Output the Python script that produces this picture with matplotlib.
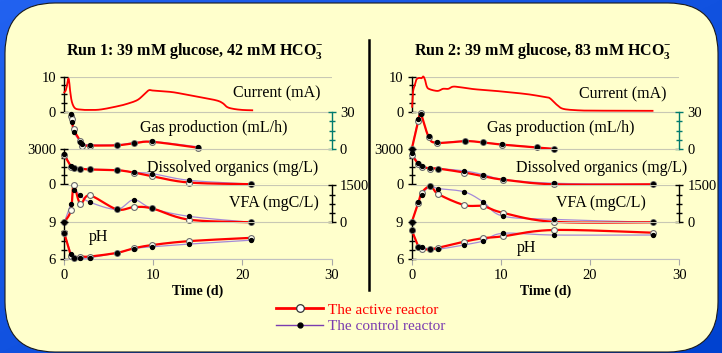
import numpy as np
import matplotlib
matplotlib.use("Agg")
import matplotlib.pyplot as plt
from matplotlib.patches import FancyBboxPatch
from matplotlib.lines import Line2D
from matplotlib.colors import LinearSegmentedColormap

plt.rcParams['font.family'] = ['Liberation Serif', 'DejaVu Serif']
plt.rcParams['mathtext.fontset'] = 'custom'
plt.rcParams['mathtext.rm'] = 'Liberation Serif'
plt.rcParams['mathtext.bf'] = 'Liberation Serif:bold'

# ---------------- data ----------------
xticks_days = [0, 10, 20, 30]

# Run 1
r1_cur_t = [0, 0.15, 0.3, 0.45, 0.55, 0.65, 0.85, 1.2, 1.8, 2.5, 4, 5.9, 7, 8.2, 9.0, 9.5,
            10, 12, 13.4, 15.3, 17.1, 17.8, 18.3, 19, 20, 21.1]
r1_cur = [5.5, 6.0, 7.5, 9.4, 8.5, 6.0, 2.8, 1.0, 0.6, 0.5, 0.6, 1.5, 2.2, 3.3, 5.0, 6.1,
          6.0, 5.6, 5.0, 4.1, 3.2, 2.4, 1.3, 0.8, 0.5, 0.4]
r1_gas_t = [0.75, 0.85, 1.05, 1.8, 2.0, 2.85, 5.9, 7.8, 9.85, 15]
r1_gas_act = [27, 24, 16, 6.5, 3.0, 3.0, 3.2, 4.8, 6.0, 1.3]
r1_gas_ctl = [28, 22, 14, 6.0, 4.5, 3.6, 3.6, 5.3, 6.3, 2.0]
r1_t = [0, 0.75, 1.05, 1.8, 2.85, 5.9, 7.8, 9.85, 14, 21]
r1_dis_act = [2480, 1500, 1350, 1330, 1260, 1200, 1000, 690, 150, 10]
r1_dis_ctl = [2570, 1560, 1400, 1340, 1280, 1230, 1020, 910, 340, 20]
r1_vfa_act = [0, 490, 1500, 757, 1095, 527, 622, 567, 108, 0]
r1_vfa_ctl = [0, 757, 1320, 1095, 824, 527, 919, 567, 243, 0]
r1_ph_act = [8.1, 6.25, 6.1, 6.2, 6.2, 6.5, 6.87, 7.14, 7.46, 7.73]
r1_ph_ctl = [8.1, 6.4, 6.05, 6.05, 6.1, 6.5, 6.85, 7.0, 7.22, 7.54]

# Run 2
r2_cur_t = [0.05, 0.15, 0.35, 0.55, 0.85, 1.1, 1.3, 1.5, 1.7, 2.0, 2.9, 3.5, 4.1, 4.6, 5.3,
            7, 9, 12.9, 15, 15.5, 16.3, 17, 18.6, 20.4, 27]
r2_cur = [1.4, 5.7, 7.6, 9.2, 9.6, 9.5, 10.0, 9.0, 7.1, 6.4, 5.9, 6.5, 6.5, 7.1, 7.0,
          6.4, 6.0, 5.0, 4.1, 3.8, 1.9, 0.8, 0.4, 0.3, 0.25]
r2_gas_t = [0, 0.75, 1.0, 1.9, 2.8, 6.0, 8.0, 10.1, 14.1, 16.0]
r2_gas_act = [0, 23, 29, 10, 5.2, 6.6, 5.5, 3.8, 1.5, 0.2]
r2_gas_ctl = [0.5, 24.5, 28, 10.3, 5.5, 6.8, 5.5, 4.0, 1.5, 0.5]
r2_t = [0, 0.75, 1.1, 2.1, 3.0, 5.9, 8.0, 10.2, 15.9, 27]
r2_dis_act = [2500, 1700, 1500, 1340, 1330, 1000, 690, 400, 0, 0]
r2_dis_ctl = [2650, 1770, 1570, 1360, 1340, 1140, 830, 430, 90, 10]
r2_vfa_act = [0, 800, 1200, 1470, 1145, 700, 660, 390, 20, 0]
r2_vfa_ctl = [0, 835, 1130, 1470, 1375, 1240, 835, 255, 120, 0]
r2_ph_act = [8.37, 7.0, 6.8, 6.8, 6.92, 7.42, 7.7, 7.85, 8.37, 8.15]
r2_ph_ctl = [8.37, 7.0, 6.95, 6.8, 6.8, 7.15, 7.47, 8.1, 7.96, 7.96]

titles = ["Run 1: 39 mM glucose, 42 mM HCO$_{\\mathbf{3}}^{\\mathbf{-}}$",
          "Run 2: 39 mM glucose, 83 mM HCO$_{\\mathbf{3}}^{\\mathbf{-}}$"]
legend_labels = ["The active reactor", "The control reactor"]

# ---------------- layout ----------------
W, H = 722, 353
fig = plt.figure(figsize=(7.22, 3.53), dpi=100)

bg = fig.add_axes([0, 0, 1, 1], zorder=-10)
grad = np.linspace(0, 1, 256)
G = (grad[None, :] * 0.5 + grad[:, None] * 0.5)
cm = LinearSegmentedColormap.from_list('b', ['#2262f0', '#0042d0'])
bg.imshow(G, cmap=cm, extent=[0, W, H, 0], aspect='auto')
bg.set_xlim(0, W); bg.set_ylim(H, 0)
bg.add_patch(FancyBboxPatch((5, 3), 713, 349, boxstyle="round,pad=0,rounding_size=50",
                            fc='#FFFFCC', ec='#1a1a1a', lw=0.8))
bg.plot([369, 369], [40, 290], color='black', lw=1.8)
bg.axis('off')

bands = {'cur': (76.5, 111.7), 'gas': (112.0, 149.3), 'dis': (149.0, 184.3),
         'vfa': (185.5, 222.3), 'ph': (222.3, 259.0)}
runs_x = [(64.3, 331.5), (411.7, 679.3)]
GRID = '#c8c8b4'
TEAL = '#007a6e'
RED = '#ff0000'
PURP = '#a48ad8'


def make_ax(xpx, key, ylim, side, color='black'):
    top, bot = bands[key]
    x0, x1 = xpx
    ax = fig.add_axes([x0 / W, 1 - bot / H, (x1 - x0) / W, (bot - top) / H])
    ax.set_xlim(0, 30)
    ax.set_ylim(*ylim)
    ax.patch.set_visible(False)
    for s in ax.spines.values():
        s.set_visible(False)
    lo, hi = ylim
    ax.set_yticks([lo, hi])
    ax.set_yticklabels([f"{lo:g}", f"{hi:g}"])
    ax.set_yticks([lo + (hi - lo) * k / 4 for k in (1, 2, 3)], minor=True)
    if side == 'right':
        ax.yaxis.tick_right()
    ax.spines[side].set_visible(True)
    ax.spines[side].set_color(color)
    ax.spines[side].set_linewidth(1.0)
    ax.tick_params(axis='y', which='both', direction='inout', length=6, width=1,
                   color=color, labelsize=10.5, pad=3)
    ax.tick_params(axis='y', which='minor', length=5)
    ax.yaxis.grid(True, which='major', color=GRID, lw=0.8)
    ax.set_axisbelow(True)
    ax.set_xticks([])
    return ax


def smooth(ax, x, y, n=24):
    bb = ax.get_position()
    sx = bb.width * W / 30.0
    y0, y1 = ax.get_ylim()
    sy = bb.height * H / (y1 - y0)
    P = np.column_stack([np.asarray(x, float) * sx, np.asarray(y, float) * sy])
    E = np.vstack([P[0], P, P[-1]])
    segs = []
    t = np.linspace(0, 1, n, endpoint=False)[:, None]
    for i in range(len(P) - 1):
        p0, p1, p2, p3 = E[i], E[i + 1], E[i + 2], E[i + 3]
        c1 = p1 + (p2 - p0) / 6
        c2 = p2 - (p3 - p1) / 6
        segs.append((1 - t) ** 3 * p1 + 3 * (1 - t) ** 2 * t * c1 + 3 * (1 - t) * t ** 2 * c2 + t ** 3 * p2)
    segs.append(P[-1:])
    S = np.vstack(segs)
    return S[:, 0] / sx, S[:, 1] / sy


def pair(ax, t, act, ctl, tc=None):
    tc = t if tc is None else tc
    xs, ys = smooth(ax, tc, ctl)
    ax.plot(xs, ys, color=PURP, lw=0.9, zorder=2, clip_on=False)
    xs, ys = smooth(ax, t, act)
    ax.plot(xs, ys, color=RED, lw=1.6, zorder=3, clip_on=False)
    ax.plot(t, act, 'o', ms=4.2, mfc='#fffff0', mec='#6a6a6a', mew=0.8, zorder=4, clip_on=False)
    ax.plot(tc, ctl, 'o', ms=2.8, mfc='black', mec='black', zorder=5, clip_on=False)


runs = [
    dict(cur_t=r1_cur_t, cur=r1_cur, gas_t=r1_gas_t, ga=r1_gas_act, gc=r1_gas_ctl, t=r1_t,
         da=r1_dis_act, dc=r1_dis_ctl, va=r1_vfa_act, vc=r1_vfa_ctl, pa=r1_ph_act, pc=r1_ph_ctl,
         lab={'cur': (0.957, 0.53, 'right'), 'gas': (0.558, 0.57, 'center'),
              'dis': (0.631, 0.45, 'center'), 'vfa': (0.783, 0.53, 'center'),
              'ph': (0.129, 0.59, 'center')}),
    dict(cur_t=r2_cur_t, cur=r2_cur, gas_t=r2_gas_t, ga=r2_gas_act, gc=r2_gas_ctl, t=r2_t,
         da=r2_dis_act, dc=r2_dis_ctl, va=r2_vfa_act, vc=r2_vfa_ctl, pa=r2_ph_act, pc=r2_ph_ctl,
         lab={'cur': (0.953, 0.49, 'right'), 'gas': (0.556, 0.58, 'center'),
              'dis': (0.711, 0.45, 'center'), 'vfa': (0.707, 0.53, 'center'),
              'ph': (0.428, 0.29, 'center')}),
]
names = {'cur': 'Current (mA)', 'gas': 'Gas production (mL/h)',
         'dis': 'Dissolved organics (mg/L)', 'vfa': 'VFA (mgC/L)', 'ph': 'pH'}

for ri, (xpx, R) in enumerate(zip(runs_x, runs)):
    ax_cur = make_ax(xpx, 'cur', (0, 10), 'left')
    ax_gas = make_ax(xpx, 'gas', (0, 30), 'right', TEAL)
    ax_gas.tick_params(axis='y', labelcolor='black')
    ax_dis = make_ax(xpx, 'dis', (0, 3000), 'left')
    ax_vfa = make_ax(xpx, 'vfa', (0, 1500), 'right')
    ax_ph = make_ax(xpx, 'ph', (6, 9), 'left')

    xs, ys = smooth(ax_cur, R['cur_t'], R['cur'], n=10)
    ax_cur.plot(xs, ys, color=RED, lw=1.3, zorder=3, clip_on=False)
    pair(ax_gas, R['gas_t'], R['ga'], R['gc'])
    pair(ax_dis, R['t'], R['da'], R['dc'])
    pair(ax_vfa, R['t'], R['va'], R['vc'])
    pair(ax_ph, R['t'], R['pa'], R['pc'])

    ax_ph.spines['bottom'].set_visible(True)
    ax_ph.spines['bottom'].set_color('#c0c0c0')
    ax_ph.set_xticks(xticks_days)
    ax_ph.set_xticklabels([str(v) for v in xticks_days])
    ax_ph.tick_params(axis='x', direction='out', length=4, color='#a8a8a8', labelsize=10.5, pad=3)
    ax_ph.set_xlabel('Time (d)', fontsize=10, fontweight='bold', labelpad=2)

    for key, ax in zip(['cur', 'gas', 'dis', 'vfa', 'ph'], [ax_cur, ax_gas, ax_dis, ax_vfa, ax_ph]):
        fx, fy, ha = R['lab'][key]
        ax.text(fx, fy, names[key], transform=ax.transAxes, ha=ha, va='center',
                fontsize=11.5, zorder=6)

    cx = (xpx[0] + xpx[1]) / 2 - 3
    fig.text(cx / W, 1 - 51.5 / H, titles[ri], ha='center', va='center',
             fontsize=11.5, fontweight='bold')

handles = [Line2D([], [], color=RED, lw=2, marker='o', ms=5.5, mfc='white', mec='#333333', mew=0.9),
           Line2D([], [], color='#7a3cb0', lw=1, marker='o', ms=3.5, mfc='black', mec='black')]
fig.legend(handles, legend_labels, loc='upper left', bbox_to_anchor=(276 / W, 1 - 303 / H),
           frameon=False, fontsize=11, labelcolor=[RED, '#7a3cb0'], handlelength=3.1,
           handletextpad=0.3, labelspacing=0.2, borderpad=0, borderaxespad=0)

fig.savefig('out.png', dpi=100)
